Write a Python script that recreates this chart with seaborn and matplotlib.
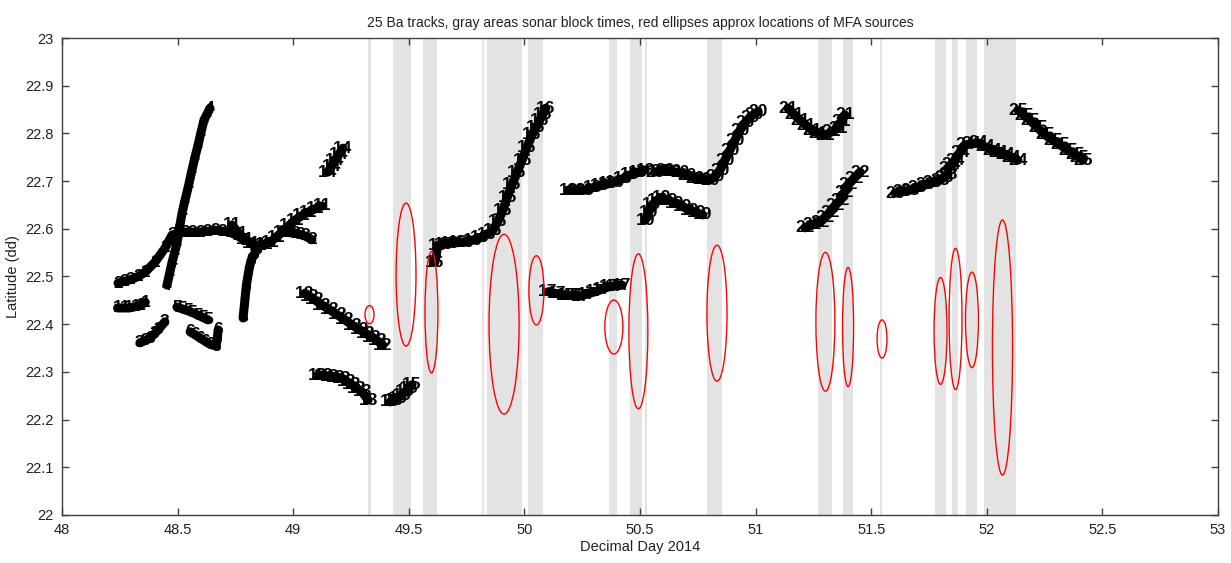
import matplotlib
matplotlib.use("Agg")
import matplotlib.pyplot as plt
from matplotlib.patches import Ellipse
import pandas as pd
import seaborn as sns

# sonar block times (decimal day)
block_start = [49.325, 49.43, 49.56, 49.818, 49.84, 50.016, 50.366, 50.457, 50.522, 50.79, 51.27, 51.378, 51.537, 51.776, 51.85, 51.91, 51.988]
block_end = [49.338, 49.51, 49.62, 49.826, 49.99, 50.08, 50.40, 50.51, 50.530, 50.855, 51.33, 51.42, 51.545, 51.824, 51.875, 51.958, 52.126]

# approximate MFA source ellipses
ell_day = [49.33, 49.488, 49.598, 49.912, 50.052, 50.387, 50.493, 50.833, 51.302, 51.40, 51.547, 51.80, 51.865, 51.936, 52.068]
ell_lat = [22.42, 22.504, 22.425, 22.40, 22.471, 22.394, 22.385, 22.423, 22.405, 22.394, 22.369, 22.386, 22.411, 22.409, 22.351]
ell_w = [0.039, 0.086, 0.056, 0.13, 0.065, 0.078, 0.082, 0.087, 0.082, 0.048, 0.043, 0.056, 0.056, 0.056, 0.087]
ell_h = [0.038, 0.30, 0.254, 0.377, 0.145, 0.113, 0.325, 0.285, 0.291, 0.25, 0.08, 0.224, 0.296, 0.20, 0.535]

# tracks
t1_day = [48.24, 48.27, 48.29, 48.32, 48.34, 48.36]
t1_lat = [22.434, 22.434, 22.434, 22.437, 22.44, 22.446]
t2_day = [48.242, 48.27, 48.294, 48.33, 48.359, 48.402, 48.446, 48.476, 48.50, 48.532, 48.565, 48.597, 48.63, 48.662, 48.695, 48.727, 48.76, 48.792]
t2_lat = [22.486, 22.49, 22.493, 22.50, 22.509, 22.53, 22.56, 22.587, 22.59, 22.593, 22.593, 22.593, 22.595, 22.597, 22.595, 22.593, 22.585, 22.576]
t3_day = [48.337, 48.36, 48.381, 48.40, 48.415, 48.445]
t3_lat = [22.361, 22.366, 22.371, 22.38, 22.388, 22.405]
t4_day = [48.454, 48.465, 48.476, 48.487, 48.497, 48.51, 48.52, 48.532, 48.547, 48.562, 48.575, 48.588, 48.60, 48.614, 48.627, 48.64]
t4_lat = [22.482, 22.506, 22.53, 22.55, 22.57, 22.608, 22.635, 22.66, 22.69, 22.723, 22.75, 22.775, 22.80, 22.828, 22.84, 22.853]
t5_day = [48.497, 48.52, 48.545, 48.565, 48.588, 48.61, 48.631]
t5_lat = [22.436, 22.432, 22.428, 22.424, 22.419, 22.414, 22.409]
t6_day = [48.554, 48.575, 48.597, 48.62, 48.64, 48.666, 48.672, 48.675]
t6_lat = [22.384, 22.378, 22.371, 22.364, 22.358, 22.354, 22.37, 22.388]
t8_day = [48.783, 48.79, 48.797, 48.807, 48.817, 48.83, 48.843]
t8_lat = [22.413, 22.446, 22.48, 22.51, 22.533, 22.546, 22.556]
t9_day = [48.952, 48.98, 49.008, 49.03, 49.051, 49.081]
t9_lat = [22.593, 22.592, 22.591, 22.588, 22.585, 22.577]
t11_day = [48.735, 48.765, 48.792, 48.82, 48.848, 48.875, 48.90, 48.925, 48.952, 48.98, 49.008, 49.035, 49.064, 49.095, 49.125]
t11_lat = [22.608, 22.59, 22.577, 22.57, 22.564, 22.567, 22.572, 22.582, 22.593, 22.606, 22.618, 22.627, 22.635, 22.642, 22.648]
t12_day = [49.051, 49.072, 49.094, 49.125, 49.159, 49.19, 49.224, 49.255, 49.289, 49.315, 49.341, 49.365, 49.388]
t12_lat = [22.465, 22.458, 22.451, 22.44, 22.43, 22.42, 22.409, 22.398, 22.388, 22.38, 22.373, 22.365, 22.356]
t13_day = [49.107, 49.133, 49.159, 49.185, 49.211, 49.232, 49.254, 49.276, 49.298, 49.324]
t13_lat = [22.293, 22.292, 22.291, 22.289, 22.287, 22.28, 22.273, 22.265, 22.258, 22.241]
t14_day = [49.15, 49.165, 49.18, 49.198, 49.215]
t14_lat = [22.719, 22.731, 22.744, 22.756, 22.769]
t15_day = [49.419, 49.436, 49.453, 49.468, 49.484, 49.50, 49.514]
t15_lat = [22.237, 22.241, 22.245, 22.251, 22.258, 22.265, 22.273]
t16_day = [49.613, 49.626, 49.65, 49.678, 49.71, 49.743, 49.775, 49.808, 49.836, 49.864, 49.885, 49.907, 49.925, 49.946, 49.968, 49.99, 50.01, 50.033, 50.05, 50.067, 50.08, 50.093]
t16_lat = [22.53, 22.566, 22.568, 22.57, 22.571, 22.572, 22.576, 22.581, 22.588, 22.597, 22.615, 22.639, 22.665, 22.692, 22.718, 22.744, 22.77, 22.797, 22.812, 22.828, 22.84, 22.853]
t17_day = [50.102, 50.14, 50.176, 50.21, 50.241, 50.27, 50.305, 50.335, 50.362, 50.39, 50.422]
t17_lat = [22.468, 22.464, 22.461, 22.46, 22.459, 22.463, 22.468, 22.473, 22.478, 22.48, 22.482]
t18_day = [50.189, 50.225, 50.262, 50.295, 50.327, 50.36, 50.392, 50.425, 50.457, 50.49, 50.522]
t18_lat = [22.681, 22.681, 22.681, 22.686, 22.69, 22.694, 22.698, 22.705, 22.713, 22.718, 22.723]
t19_day = [50.522, 50.537, 50.552, 50.573, 50.595, 50.623, 50.651, 50.683, 50.716, 50.745, 50.772]
t19_lat = [22.618, 22.634, 22.65, 22.66, 22.665, 22.66, 22.654, 22.647, 22.639, 22.634, 22.629]
t20_day = [50.565, 50.587, 50.608, 50.64, 50.673, 50.705, 50.738, 50.77, 50.803, 50.825, 50.846, 50.868, 50.889, 50.911, 50.933, 50.955, 50.976, 50.993, 51.01]
t20_lat = [22.719, 22.721, 22.723, 22.72, 22.717, 22.712, 22.706, 22.704, 22.702, 22.71, 22.723, 22.744, 22.765, 22.786, 22.807, 22.822, 22.834, 22.84, 22.845]
t21_day = [51.14, 51.166, 51.192, 51.218, 51.244, 51.272, 51.30, 51.328, 51.356, 51.372, 51.386]
t21_lat = [22.853, 22.84, 22.828, 22.817, 22.807, 22.80, 22.796, 22.803, 22.811, 22.825, 22.839]
t22_day = [51.214, 51.246, 51.279, 51.30, 51.322, 51.343, 51.365, 51.383, 51.40, 51.426, 51.452]
t22_lat = [22.602, 22.608, 22.614, 22.624, 22.635, 22.648, 22.66, 22.676, 22.692, 22.706, 22.719]
t23_day = [51.603, 51.635, 51.668, 51.70, 51.733, 51.765, 51.798, 51.815, 51.832]
t23_lat = [22.675, 22.678, 22.681, 22.686, 22.692, 22.697, 22.702, 22.708, 22.713]
t24_day = [51.832, 51.847, 51.862, 51.884, 51.906, 51.934, 51.962, 51.992, 52.023, 52.051, 52.079, 52.107, 52.135]
t24_lat = [22.727, 22.735, 22.744, 22.76, 22.776, 22.778, 22.78, 22.772, 22.765, 22.76, 22.755, 22.75, 22.744]
t25_day = [52.135, 52.16, 52.187, 52.22, 52.252, 52.285, 52.317, 52.35, 52.382, 52.40, 52.416]
t25_lat = [22.849, 22.838, 22.828, 22.812, 22.797, 22.786, 22.776, 22.765, 22.755, 22.75, 22.744]

tracks = [
    (1, t1_day, t1_lat), (2, t2_day, t2_lat), (3, t3_day, t3_lat), (4, t4_day, t4_lat),
    (5, t5_day, t5_lat), (6, t6_day, t6_lat), (8, t8_day, t8_lat), (2, t9_day, t9_lat),
    (11, t11_day, t11_lat), (12, t12_day, t12_lat), (13, t13_day, t13_lat), (14, t14_day, t14_lat),
    (15, t15_day, t15_lat), (16, t16_day, t16_lat), (17, t17_day, t17_lat), (18, t18_day, t18_lat),
    (19, t19_day, t19_lat), (20, t20_day, t20_lat), (21, t21_day, t21_lat), (22, t22_day, t22_lat),
    (23, t23_day, t23_lat), (24, t24_day, t24_lat), (25, t25_day, t25_lat),
]

rows = []
for i, (label, days, lats) in enumerate(tracks):
    for d, la in zip(days, lats):
        rows.append({"seg": i, "label": label, "day": d, "lat": la})
df = pd.DataFrame(rows)

sns.set_theme(style="white")
plt.rcParams["font.family"] = ["Liberation Sans", "DejaVu Sans"]

fig = plt.figure(figsize=(12.31, 5.63), dpi=100)
ax = fig.add_axes([0.0504, 0.0853, 0.9390, 0.8472])

for s, e in zip(block_start, block_end):
    ax.axvspan(s, e, color="#e3e3e3", lw=0, zorder=0)

# black path under the track-number labels (MATLAB text() per fix)
sns.lineplot(data=df, x="day", y="lat", units="seg", estimator=None, sort=False,
             color="black", lw=6.5, ax=ax, zorder=2)

for _, r in df.iterrows():
    ax.text(r["day"], r["lat"], str(int(r["label"])), fontsize=12.5, color="black",
            fontweight="bold", ha="center", va="center", zorder=3)

for d, la, w, h in zip(ell_day, ell_lat, ell_w, ell_h):
    ax.add_patch(Ellipse((d, la), w, h, fill=False, edgecolor="red", lw=1, zorder=4))

ax.set_xlim(48, 53)
ax.set_ylim(22, 23)
ax.set_xticks([48 + 0.5 * k for k in range(11)])
ax.set_xticklabels(["48", "48.5", "49", "49.5", "50", "50.5", "51", "51.5", "52", "52.5", "53"])
ax.set_yticks([22 + 0.1 * k for k in range(11)])
ax.set_yticklabels(["22", "22.1", "22.2", "22.3", "22.4", "22.5", "22.6", "22.7", "22.8", "22.9", "23"])
ax.tick_params(direction="in", length=5, width=1, color="#404040", labelsize=10.5,
               top=True, right=True, bottom=True, left=True, labelcolor="#202020", pad=6)
for sp in ax.spines.values():
    sp.set_color("#404040")
    sp.set_linewidth(1)

ax.set_xlabel("Decimal Day 2014", fontsize=10.5, color="#202020", labelpad=2)
ax.set_ylabel("Latitude (dd)", fontsize=10.5, color="#202020", labelpad=4)
ax.set_title("25 Ba tracks, gray areas sonar block times, red ellipses approx locations of MFA sources",
             fontsize=10, color="#202020", pad=8)

fig.savefig("out.png", dpi=100)
